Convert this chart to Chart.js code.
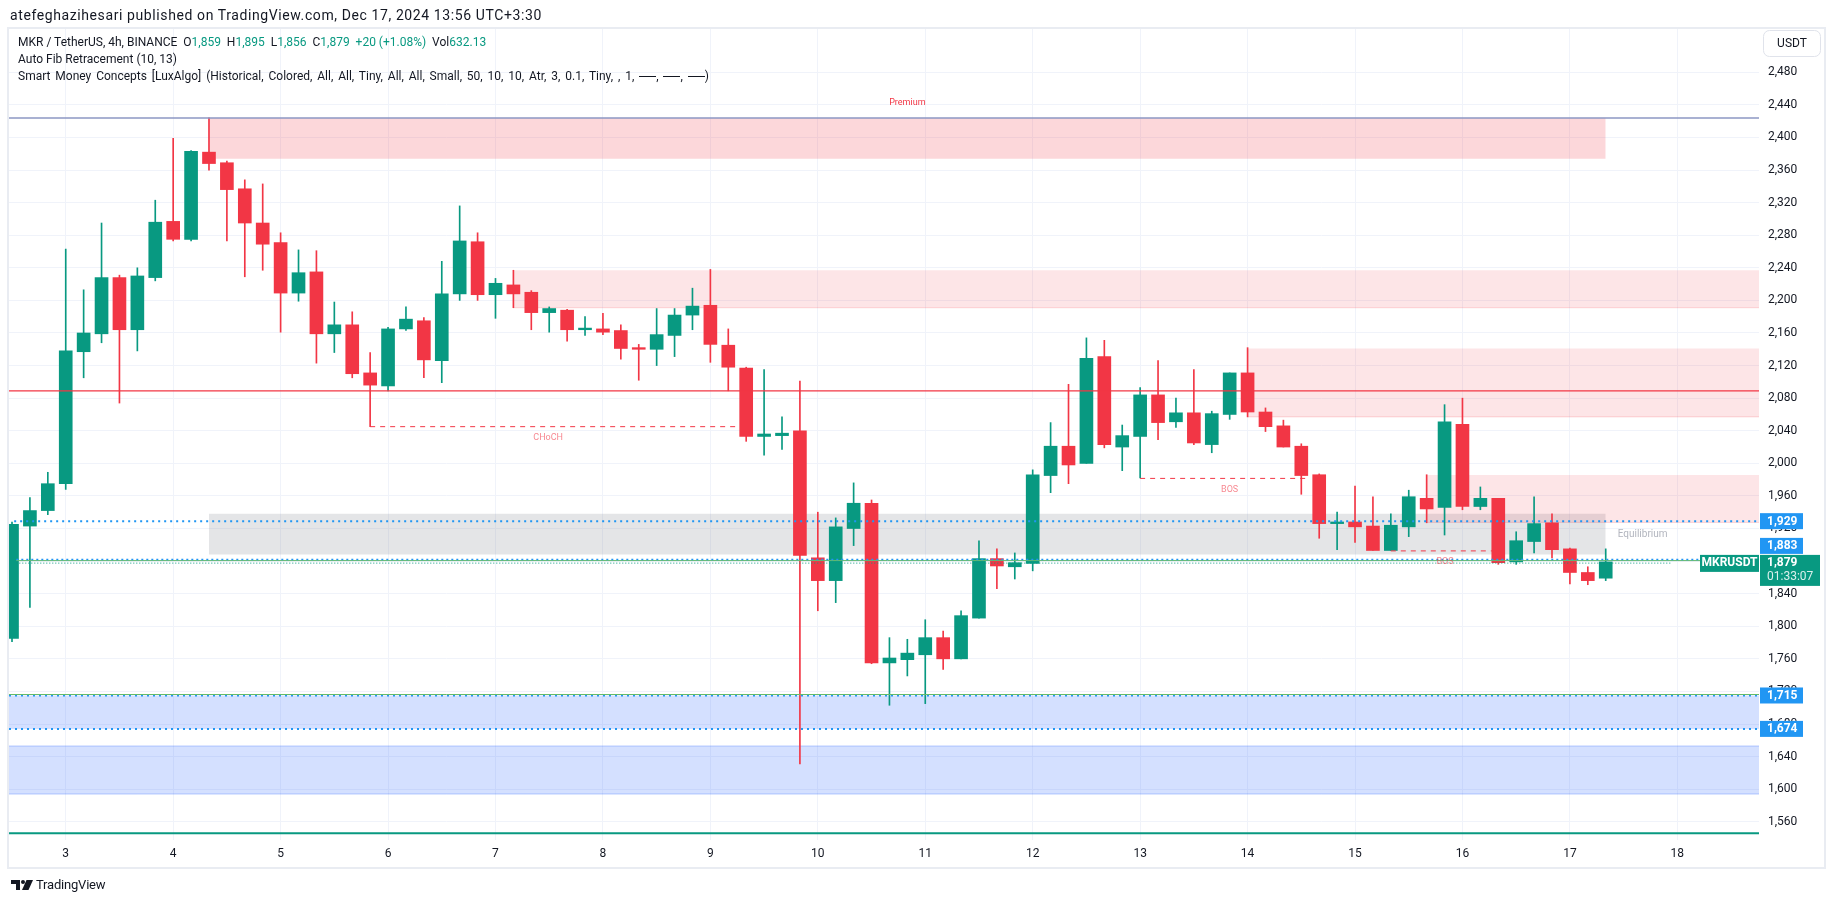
<!DOCTYPE html>
<html>
<head>
<meta charset="utf-8">
<script src="https://cdn.jsdelivr.net/npm/chart.js@4.4.1/dist/chart.umd.min.js"></script>
<style>
html, body { margin: 0; padding: 0; background: #fff; overflow: hidden; }
body { width: 1835px; height: 903px; position: relative; font-family: Roboto, "Liberation Sans", sans-serif; color: #131722; }
#c { position: absolute; left: 0; top: 0; }
.txt { position: absolute; white-space: nowrap; z-index: 2; }
.hdr { left: 10px; top: 6px; font-size: 14px; line-height: 18px; letter-spacing: 0.6px; }
.leg { left: 18px; font-size: 12px; line-height: 17px; }
.wide { word-spacing: 1.9px; }
.g { color: #089981; }
.dash { display: inline-block; width: 17px; height: 0; border-top: 1px solid #131722; vertical-align: middle; margin-top: -1px; }
.logo { left: 11px; top: 877px; font-size: 13px; line-height: 16px; display: flex; align-items: center; gap: 3px; letter-spacing: -0.2px; }
</style>
</head>
<body>
<canvas id="c" width="1835" height="903"></canvas>
<div class="txt hdr">atefeghazihesari published on TradingView.com, Dec 17, 2024 13:56 UTC+3:30</div>
<div class="txt leg" style="top:34px">MKR / TetherUS, 4h, BINANCE&nbsp;&nbsp;O<span class="g">1,859</span>&nbsp;&nbsp;H<span class="g">1,895</span>&nbsp;&nbsp;L<span class="g">1,856</span>&nbsp;&nbsp;C<span class="g">1,879</span>&nbsp;&nbsp;<span class="g">+20 (+1.08%)</span>&nbsp;&nbsp;Vol<span class="g">632.13</span></div>
<div class="txt leg" style="top:51px">Auto Fib Retracement (10, 13)</div>
<div class="txt leg wide" style="top:68px">Smart Money Concepts [LuxAlgo] (Historical, Colored, All, All, Tiny, All, All, Small, 50, 10, 10, Atr, 3, 0.1, Tiny, , 1, <span class="dash"></span>, <span class="dash"></span>, <span class="dash"></span>)</div>
<div class="txt logo"><svg width="22" height="10" viewBox="0 0 22 10"><path d="M0 0h9v10H5V4H0z" fill="#131722"/><circle cx="12" cy="2" r="2" fill="#131722"/><path d="M15.5 0H22l-4.5 10H11z" fill="#131722"/></svg><span>TradingView</span></div>
<script>
// axis ranges (days on x, USDT on y)
const X_MIN = 2.472, X_MAX = 18.76;
const Y_MIN = 1537.6, Y_MAX = 2534.4;
const xTicks = [3, 4, 5, 6, 7, 8, 9, 10, 11, 12, 13, 14, 15, 16, 17, 18];
const yTicks = [1560, 1600, 1640, 1680, 1720, 1760, 1800, 1840, 1880, 1920, 1960, 2000, 2040, 2080, 2120, 2160, 2200, 2240, 2280, 2320, 2360, 2400, 2440, 2480];

// 4h candles, first one = Dec 2 12:00
const opens = [1785, 1923, 1942, 1975, 2137, 2159, 2228, 2164, 2228, 2297, 2275, 2382, 2369, 2337, 2295, 2271, 2209, 2235, 2159, 2170,
  2111, 2095, 2165, 2175, 2126, 2208, 2272, 2207, 2219, 2210, 2185, 2188, 2164, 2165, 2163, 2142, 2140, 2157, 2182, 2194,
  2145, 2117, 2033, 2034, 2040, 1884, 1856, 1920, 1951, 1755, 1759, 1765, 1786, 1760, 1810, 1883, 1873, 1877, 1985, 2021,
  2000, 2131, 2020, 2033, 2084, 2051, 2062, 2023, 2060, 2111, 2063, 2046, 2021, 1986, 1926, 1928, 1923, 1893, 1922, 1957,
  1946, 2048, 1947, 1957, 1879, 1904, 1927, 1895, 1866, 1859];
const highs = [1928, 1958, 1989, 2263, 2213, 2295, 2231, 2240, 2323, 2399, 2384, 2424, 2371, 2348, 2343, 2283, 2262, 2261, 2198, 2186,
  2136, 2167, 2192, 2179, 2248, 2316, 2283, 2227, 2237, 2212, 2192, 2189, 2180, 2184, 2170, 2146, 2190, 2190, 2215, 2238,
  2165, 2118, 2115, 2057, 2101, 1940, 1933, 1976, 1955, 1786, 1784, 1808, 1794, 1819, 1905, 1895, 1890, 1992, 2050, 2097,
  2154, 2151, 2047, 2093, 2126, 2080, 2115, 2064, 2111, 2142, 2068, 2053, 2024, 1987, 1940, 1972, 1959, 1938, 1967, 1986,
  2072, 2080, 1971, 1957, 1916, 1959, 1938, 1896, 1873, 1895];
const lows = [1781, 1823, 1937, 1968, 2105, 2148, 2074, 2138, 2224, 2273, 2273, 2360, 2273, 2229, 2237, 2161, 2199, 2123, 2136, 2105,
  2045, 2089, 2163, 2105, 2099, 2200, 2200, 2178, 2191, 2164, 2161, 2150, 2157, 2158, 2128, 2102, 2120, 2131, 2164, 2124,
  2089, 2027, 2010, 2017, 1631, 1819, 1829, 1899, 1754, 1703, 1739, 1705, 1747, 1760, 1810, 1846, 1858, 1868, 1964, 1975,
  2000, 2019, 1991, 1982, 2029, 2044, 2023, 2013, 2054, 2057, 2039, 2020, 1962, 1908, 1894, 1903, 1893, 1893, 1910, 1927,
  1912, 1943, 1943, 1876, 1876, 1890, 1884, 1852, 1851, 1856];
const closes = [1925, 1942, 1975, 2138, 2160, 2228, 2164, 2230, 2296, 2275, 2383, 2368, 2336, 2295, 2269, 2209, 2234, 2159, 2170, 2110,
  2096, 2165, 2177, 2127, 2208, 2273, 2207, 2221, 2208, 2185, 2190, 2164, 2166, 2161, 2141, 2140, 2158, 2182, 2193, 2146,
  2118, 2033, 2036, 2037, 1887, 1856, 1922, 1951, 1755, 1761, 1767, 1786, 1760, 1813, 1883, 1874, 1878, 1986, 2021, 1998,
  2129, 2023, 2034, 2084, 2050, 2062, 2025, 2061, 2111, 2063, 2045, 2020, 1985, 1926, 1928, 1922, 1893, 1924, 1959, 1944,
  2051, 1947, 1957, 1878, 1905, 1926, 1894, 1866, 1856, 1879];
const candleDays = opens.map((_, i) => 2.5 + i / 6);

// SMC zones: [fromDay, toDay, bottom, top]
const premiumZones = [[4.3333, 17.3333, 2374, 2424]];
const supplyZones = [[7.1667, X_MAX, 2191, 2237], [14.0, X_MAX, 2057, 2141], [15.6667, X_MAX, 1927.5, 1985.6]];
const equilibriumZones = [[4.3333, 17.3333, 1888, 1938]];
const discountZones = [[X_MIN, X_MAX, 1674, 1715], [X_MIN, X_MAX, 1594, 1653]];
// structure breaks: [fromDay, toDay, price, labelDay, label]
const structureLines = [[5.8333, 9.25, 2045, 7.49, 'CHoCH'], [13.0, 14.58, 1981.5, 13.833, 'BOS'], [15.333, 16.28, 1892.5, 15.837, 'BOS']];
// price levels with axis tags
const tagLevels = [1929, 1883, 1715, 1674];
const lastPrice = 1879;

const UP = '#089981', DOWN = '#F23645';
const candleColors = opens.map((o, i) => closes[i] >= o ? UP : DOWN);

function hline(x1, x2, y, color, width, dash, order) {
  return { type: 'line', data: [{ x: x1, y: y }, { x: x2, y: y }], borderColor: color, borderWidth: width,
    borderDash: dash || [], pointRadius: 0, pointHitRadius: 0, fill: false, order: order === undefined ? -1 : order };
}
function box(z, color) {
  return { type: 'line', data: [{ x: z[0], y: z[3] }, { x: z[1], y: z[3] }], borderWidth: 0, borderColor: 'transparent',
    backgroundColor: color, fill: { value: z[2] }, pointRadius: 0, pointHitRadius: 0, order: 10 };
}

const datasets = [
  { type: 'bar', data: candleDays.map((d, i) => ({ x: d, y: [opens[i], closes[i]] })), backgroundColor: candleColors,
    barThickness: 13, grouped: false, borderWidth: 0, order: 0 },
  { type: 'bar', data: candleDays.map((d, i) => ({ x: d, y: [lows[i], highs[i]] })), backgroundColor: candleColors,
    barThickness: 1, grouped: false, borderWidth: 0, order: 1 }
];
premiumZones.forEach(z => datasets.push(box(z, 'rgba(242,54,69,0.2)')));
supplyZones.forEach(z => datasets.push(box(z, 'rgba(242,54,69,0.13)')));
equilibriumZones.forEach(z => datasets.push(box(z, 'rgba(120,123,134,0.2)')));
discountZones.forEach(z => datasets.push(box(z, 'rgba(41,98,255,0.2)')));
datasets.push(hline(X_MIN, X_MAX, 1653, 'rgba(41,98,255,0.3)', 1, [], 9));
datasets.push(hline(X_MIN, X_MAX, 1594, 'rgba(41,98,255,0.3)', 1, [], 9));
supplyZones.forEach(z => datasets.push(hline(z[0], z[1], z[2], 'rgba(242,54,69,0.18)', 1, [], 9)));
datasets.push(hline(X_MIN, X_MAX, 2424, '#8C97C3', 1.5));
datasets.push(hline(X_MIN, X_MAX, 2089, '#F23645', 1.2));
datasets.push(hline(X_MIN, X_MAX, 1546, '#089981', 2));
datasets.push(hline(2.52, X_MAX, 1929, '#2196F3', 2, [2, 4]));
datasets.push(hline(2.54, X_MAX, 1882, '#2196F3', 1.5, [2, 3]));
datasets.push(hline(2.54, X_MAX, 1880.6, '#66BB6A', 1));
datasets.push(hline(2.54, 17.94, 1877.5, '#089981', 1, [1, 2]));
datasets.push(hline(X_MIN, X_MAX, 1716.2, '#66BB6A', 1));
datasets.push(hline(X_MIN, X_MAX, 1715, '#2196F3', 2, [2, 4]));
datasets.push(hline(X_MIN, X_MAX, 1674, '#2196F3', 2, [2, 4]));
structureLines.forEach(s => datasets.push(hline(s[0], s[1], s[2], '#F23645', 1, [5, 5])));

const FONT = 'Roboto, "Liberation Sans", sans-serif';

const overlay = {
  id: 'overlay',
  beforeDraw(chart) {
    const ctx = chart.ctx;
    ctx.save();
    ctx.fillStyle = '#fff';
    ctx.fillRect(0, 0, chart.width, chart.height);
    ctx.restore();
  },
  afterDraw(chart) {
    const { ctx, scales: { x, y } } = chart;
    ctx.save();
    // frame
    ctx.strokeStyle = '#E9ECF2';
    ctx.lineWidth = 2;
    ctx.strokeRect(8, 28, 1817, 840);

    // zone labels
    ctx.textAlign = 'center';
    ctx.textBaseline = 'middle';
    ctx.font = '9px ' + FONT;
    ctx.fillStyle = '#F23645';
    const pz = premiumZones[0];
    ctx.fillText('Premium', x.getPixelForValue((pz[0] + pz[1]) / 2), y.getPixelForValue(pz[3]) - 15);
    ctx.fillStyle = 'rgba(242,54,69,0.6)';
    structureLines.forEach(s => ctx.fillText(s[4], x.getPixelForValue(s[3]), y.getPixelForValue(s[2]) + 11));
    const ez = equilibriumZones[0];
    ctx.textAlign = 'left';
    ctx.font = '10px ' + FONT;
    ctx.fillStyle = '#B2B5BE';
    ctx.fillText('Equilibrium', x.getPixelForValue(ez[1]) + 12, y.getPixelForValue((ez[2] + ez[3]) / 2));

    // USDT button
    ctx.strokeStyle = '#E0E3EB';
    ctx.lineWidth = 1;
    ctx.beginPath();
    ctx.roundRect(1763.5, 30.5, 57, 26, 6);
    ctx.stroke();
    ctx.fillStyle = '#131722';
    ctx.font = '12px ' + FONT;
    ctx.textAlign = 'center';
    ctx.fillText('USDT', 1792, 44);

    // axis tags (pushed up when they would cover the last price tag)
    const lp = y.getPixelForValue(lastPrice);
    ctx.font = 'bold 12px ' + FONT;
    ctx.textAlign = 'left';
    tagLevels.forEach(v => {
      let py = y.getPixelForValue(v);
      if (py + 8 > lp - 7 && py - 8 < lp + 24) py = lp - 7 - 1 - 8;
      ctx.fillStyle = '#2196F3';
      ctx.fillRect(1760, py - 8, 43, 16);
      ctx.fillStyle = '#fff';
      ctx.fillText(v.toLocaleString('en-US'), 1767, py + 0.5);
    });
    ctx.fillStyle = UP;
    ctx.fillRect(1760, lp - 7, 60, 31);
    ctx.fillRect(1700, lp - 7, 59, 17);
    ctx.fillStyle = '#fff';
    ctx.fillText(lastPrice.toLocaleString('en-US'), 1767, lp + 1);
    ctx.font = '12px ' + FONT;
    ctx.fillStyle = 'rgba(255,255,255,0.85)';
    ctx.fillText('01:33:07', 1767, lp + 15.5);
    ctx.font = 'bold 12px ' + FONT;
    ctx.fillStyle = '#fff';
    ctx.textAlign = 'center';
    ctx.fillText('MKRUSDT', 1729.5, lp + 1.5);
    ctx.restore();
  }
};

new Chart(document.getElementById('c'), {
  type: 'bar',
  data: { datasets: datasets },
  options: {
    responsive: false,
    animation: false,
    devicePixelRatio: 1,
    layout: { padding: { left: 9, top: 28, right: 9, bottom: 35 } },
    plugins: { legend: { display: false }, tooltip: { enabled: false } },
    scales: {
      x: {
        type: 'linear', min: X_MIN, max: X_MAX, offset: false,
        grid: { color: '#F0F3FA', drawTicks: false, offset: false },
        border: { display: false },
        ticks: { color: '#131722', font: { family: FONT, size: 12 }, padding: 7, maxRotation: 0, callback: v => String(v) },
        afterBuildTicks: s => { s.ticks = xTicks.map(v => ({ value: v })); },
        afterFit: s => { s.height = 28; }
      },
      y: {
        position: 'right', min: Y_MIN, max: Y_MAX,
        grid: { color: '#F0F3FA', drawTicks: false },
        border: { display: false },
        ticks: { color: '#131722', font: { family: FONT, size: 12 }, padding: 9, callback: v => v.toLocaleString('en-US') },
        afterBuildTicks: s => { s.ticks = yTicks.map(v => ({ value: v })); },
        afterFit: s => { s.width = 67; }
      }
    }
  },
  plugins: [overlay]
});
</script>
</body>
</html>
